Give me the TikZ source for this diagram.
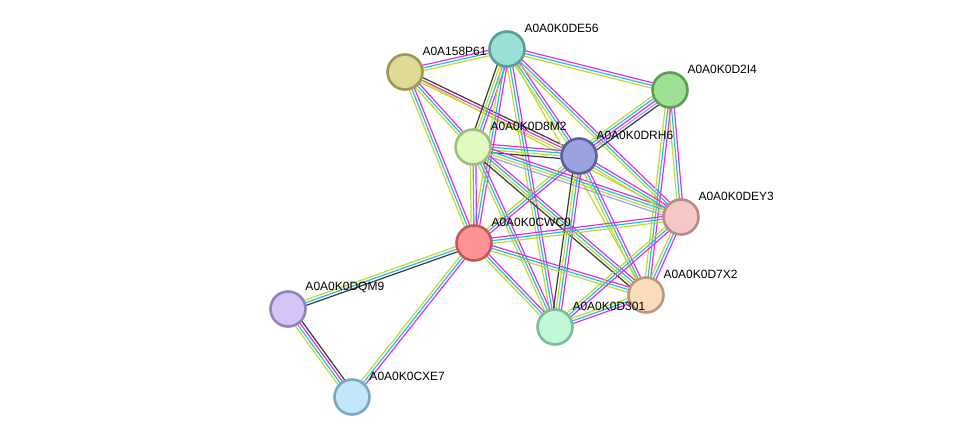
\documentclass[tikz,border=0pt]{standalone}
\usepackage{fontspec}
\setmainfont{Liberation Sans}
\usetikzlibrary{calc}
\pgfdeclarelayer{background}
\pgfsetlayers{background,main}

% evidence colours
\definecolor{tm}{HTML}{C4D82E}
\definecolor{db}{HTML}{22C0E4}
\definecolor{ex}{HTML}{E030E0}
\definecolor{co}{HTML}{3A3A3A}
\definecolor{ho}{HTML}{A0A0FA}

% one line per evidence channel, side by side
\newcommand{\ppilink}[3]{%
  \foreach \col [count=\n] in {#3} {\xdef\nlines{\n}}%
  \foreach \col [count=\i] in {#3} {%
    \pgfmathsetmacro{\off}{(\i-(\nlines+1)/2)*2.7}%
    \draw[\col, edge] ($(#1.center)!\off pt!90:(#2.center)$) -- ($(#2.center)!\off pt!-90:(#1.center)$);
  }%
}

\begin{document}
\begin{tikzpicture}[x=1pt,y=-1pt]
		\tikzset{
			prot/.style ={
				circle, %protein node
				minimum size =35pt,
				inner sep=0pt,
				line width=2.6pt
			},
			lbl/.style ={
				font=\fontsize{12}{14}\selectfont,
				inner sep=0pt,
				anchor=south west,
				xshift=4pt,
				yshift=3pt
			},
			edge/.style ={line width=1.2pt}
		}
		\useasboundingbox (0,0) rectangle (976,443);
		\node[prot, fill={rgb,255:red,154;green,224;blue,214}, draw={rgb,255:red,88;green,160;blue,150},
			label={[lbl]north east:A0A0K0DE56}] (de56) at (507,49){};
		\node[prot, fill={rgb,255:red,222;green,218;blue,148}, draw={rgb,255:red,158;green,152;blue,88},
			label={[lbl]north east:A0A158P61}] (p61) at (405,72){};
		\node[prot, fill={rgb,255:red,160;green,224;blue,148}, draw={rgb,255:red,94;green,158;blue,84},
			label={[lbl]north east:A0A0K0D2I4}] (d2i4) at (670,90){};
		\node[prot, fill={rgb,255:red,224;green,252;blue,192}, draw={rgb,255:red,160;green,190;blue,132},
			label={[lbl]north east:A0A0K0D8M2}] (d8m2) at (473,147){};
		\node[prot, fill={rgb,255:red,154;green,162;blue,224}, draw={rgb,255:red,88;green,96;blue,158},
			label={[lbl]north east:A0A0K0DRH6}] (drh6) at (579,156){};
		\node[prot, fill={rgb,255:red,245;green,200;blue,200}, draw={rgb,255:red,184;green,138;blue,138},
			label={[lbl]north east:A0A0K0DEY3}] (dey3) at (681,217){};
		\node[prot, fill={rgb,255:red,255;green,148;blue,148}, draw={rgb,255:red,192;green,90;blue,90},
			label={[lbl]north east:A0A0K0CWC0}] (cwc0) at (474,243){};
		\node[prot, fill={rgb,255:red,253;green,220;blue,188}, draw={rgb,255:red,184;green,154;blue,124},
			label={[lbl]north east:A0A0K0D7X2}] (d7x2) at (646,295){};
		\node[prot, fill={rgb,255:red,192;green,248;blue,216}, draw={rgb,255:red,124;green,188;blue,154},
			label={[lbl]north east:A0A0K0D301}] (d301) at (555,327){};
		\node[prot, fill={rgb,255:red,212;green,196;blue,248}, draw={rgb,255:red,148;green,130;blue,188},
			label={[lbl]north east:A0A0K0DQM9}] (dqm9) at (288,309){};
		\node[prot, fill={rgb,255:red,194;green,230;blue,250}, draw={rgb,255:red,126;green,166;blue,192},
			label={[lbl]north east:A0A0K0CXE7}] (cxe7) at (352,397){};
		\begin{pgfonlayer}{background}
		\ppilink{p61}{de56}{tm,db,ex}
		\ppilink{p61}{d8m2}{tm,db,ex}
		\ppilink{p61}{cwc0}{tm,db,ex}
		\ppilink{p61}{drh6}{tm,ex,co}
		\ppilink{p61}{dey3}{tm}
		\ppilink{de56}{d2i4}{tm,db,ex}
		\ppilink{de56}{d8m2}{co,tm,db,ex}
		\ppilink{de56}{cwc0}{tm,db,ex}
		\ppilink{de56}{drh6}{tm,db,ex}
		\ppilink{de56}{dey3}{tm,db,ex}
		\ppilink{de56}{d301}{tm,db,ex}
		\ppilink{de56}{d7x2}{tm}
		\ppilink{d2i4}{drh6}{tm,db,ex,ho,co}
		\ppilink{d2i4}{dey3}{tm,db,ex}
		\ppilink{d2i4}{d7x2}{tm,db,ex}
		\ppilink{d8m2}{drh6}{co,tm,db,ex}
		\ppilink{d8m2}{cwc0}{tm,db,ex}
		\ppilink{d8m2}{dey3}{ho,tm,db,ex}
		\ppilink{d8m2}{d7x2}{co,tm,db,ex}
		\ppilink{d8m2}{d301}{tm,db,ex}
		\ppilink{drh6}{cwc0}{tm,db,ex}
		\ppilink{drh6}{dey3}{tm,db,ex}
		\ppilink{drh6}{d7x2}{tm,db,ex}
		\ppilink{drh6}{d301}{co,tm,db,ex}
		\ppilink{cwc0}{dey3}{tm,db,ex}
		\ppilink{cwc0}{d7x2}{tm,db,ex}
		\ppilink{cwc0}{d301}{tm,db,ex}
		\ppilink{cwc0}{dqm9}{tm,db,co}
		\ppilink{cwc0}{cxe7}{tm,db,ex}
		\ppilink{dqm9}{cxe7}{tm,db,ex,co}
		\ppilink{dey3}{d7x2}{tm,db,ex}
		\ppilink{dey3}{d301}{tm,db,ex}
		\ppilink{d7x2}{d301}{tm,db,ex}
		\end{pgfonlayer}
	\end{tikzpicture}
\end{document}
